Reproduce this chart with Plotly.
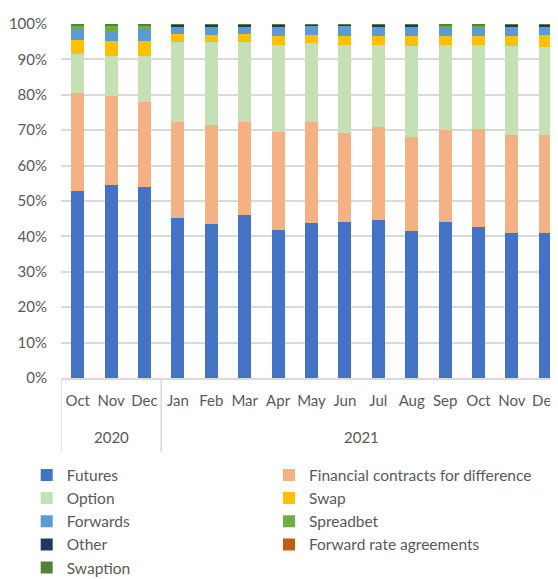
import plotly.graph_objects as go

months = ["Oct", "Nov", "Dec", "Jan", "Feb", "Mar", "Apr", "May", "Jun", "Jul", "Aug", "Sep", "Oct", "Nov", "Dec"]
years = ["2020"] * 3 + ["2021"] * 12
ytick_vals = [0, 10, 20, 30, 40, 50, 60, 70, 80, 90, 100]
ytick_text = ["0%", "10%", "20%", "30%", "40%", "50%", "60%", "70%", "80%", "90%", "100%"]

futures = [52.9, 54.6, 54.0, 45.1, 43.6, 46.0, 41.7, 43.8, 44.1, 44.6, 41.4, 44.1, 42.6, 41.1, 40.9]
cfd = [27.5, 24.9, 24.0, 27.2, 27.9, 26.2, 27.9, 28.5, 25.1, 26.4, 26.8, 26.1, 27.7, 27.5, 27.8]
option = [11.0, 11.4, 12.8, 22.7, 23.5, 22.8, 24.6, 22.4, 25.0, 23.2, 25.7, 24.0, 23.9, 25.2, 24.7]
swap = [3.9, 4.4, 4.3, 2.3, 2.0, 2.3, 2.3, 2.3, 2.5, 2.5, 2.6, 2.5, 2.5, 2.7, 3.4]
forwards = [3.0, 2.8, 3.2, 1.9, 2.4, 1.9, 2.5, 2.5, 2.8, 2.3, 2.5, 2.7, 2.7, 2.5, 2.2]
spreadbet = [1.1, 1.4, 1.2, 0.1, 0.05, 0.05, 0.05, 0.1, 0.05, 0.05, 0.05, 0.1, 0.1, 0.05, 0.05]
other = [0.1, 0.1, 0.1, 0.6, 0.5, 0.7, 0.9, 0.3, 0.4, 0.9, 0.9, 0.2, 0.2, 0.9, 0.9]
fra = [0.02] * 15
swaption = [0.4, 0.35, 0.35, 0.1, 0.05, 0.05, 0.05, 0.1, 0.05, 0.05, 0.05, 0.3, 0.3, 0.05, 0.05]

# (name, values, colour, legend column)
series = [
    ("Futures", futures, "#4472C4", "legend"),
    ("Financial contracts for difference", cfd, "#F4B183", "legend2"),
    ("Option", option, "#C5E0B4", "legend"),
    ("Swap", swap, "#FFC000", "legend2"),
    ("Forwards", forwards, "#5B9BD5", "legend"),
    ("Spreadbet", spreadbet, "#70AD47", "legend2"),
    ("Other", other, "#203864", "legend"),
    ("Forward rate agreements", fra, "#C55A11", "legend2"),
    ("Swaption", swaption, "#548235", "legend"),
]

x = list(range(len(months)))
grey = "#595959"
grid = "#D9D9D9"
font = "Lato"

fig = go.Figure()
for name, vals, col, leg in series:
    fig.add_trace(go.Bar(x=x, y=vals, name=name, legend=leg,
                         marker=dict(color=col, line=dict(width=0)), width=0.39))

legend_style = dict(orientation="v", yanchor="top", xanchor="left", traceorder="normal",
                    font=dict(family=font, size=15.5, color=grey), bgcolor="rgba(0,0,0,0)")
fig.update_layout(
    width=550, height=571,
    barmode="stack", barnorm="percent",
    plot_bgcolor="white", paper_bgcolor="white",
    margin=dict(l=53, r=0, t=16, b=201, autoexpand=False),
    font=dict(family=font, size=15, color=grey),
    showlegend=True,
    legend=dict(x=-0.069, y=-0.227, **legend_style),
    legend2=dict(x=0.4185, y=-0.227, **legend_style),
)
fig.update_yaxes(range=[0, 100], tickvals=ytick_vals, ticktext=ytick_text,
                 showgrid=True, gridcolor=grid, gridwidth=1.5,
                 zeroline=False, showline=False,
                 ticks="outside", ticklen=10, tickcolor="rgba(0,0,0,0)",
                 tickfont=dict(family=font, size=15, color=grey))
fig.update_xaxes(range=[-0.5, 14.38], tickvals=x, ticktext=months, showgrid=False,
                 zeroline=False, showline=True, linecolor=grid, linewidth=1.5, ticks="",
                 ticklabelstandoff=8, ticklabeloverflow="allow",
                 tickfont=dict(family=font, size=15, color=grey))

# year group labels and dividers
groups = {}
for i, yv in enumerate(years):
    groups.setdefault(yv, []).append(i)
bounds = []
for yv, idx in groups.items():
    fig.add_annotation(x=sum(idx) / len(idx), y=-0.167, xref="x", yref="paper",
                       text=yv, showarrow=False, yanchor="middle",
                       font=dict(family=font, size=15, color=grey))
    bounds.append(min(idx) - 0.5)
    bounds.append(max(idx) + 0.5)
for b in sorted(set(bounds)):
    fig.add_shape(type="line", x0=b, x1=b, y0=0, y1=-0.21, xref="x", yref="paper",
                  line=dict(color=grid, width=1.5))

fig.write_html("out.html")
